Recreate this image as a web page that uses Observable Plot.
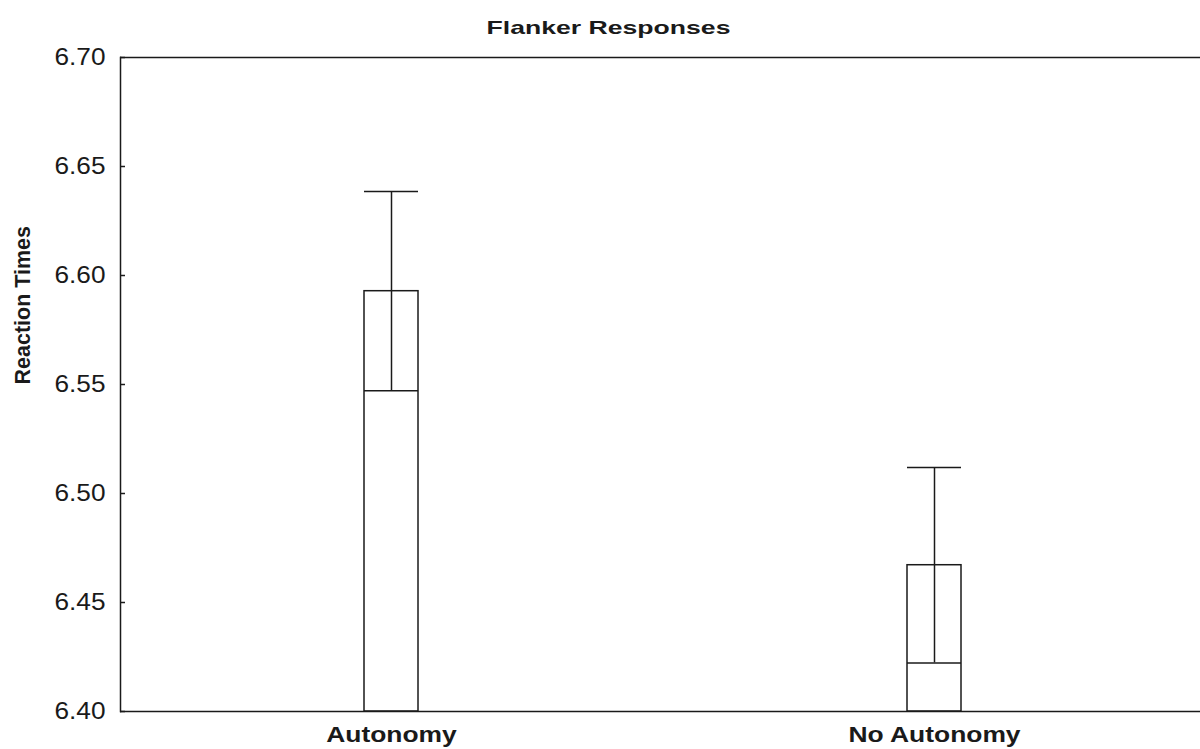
<!DOCTYPE html>
<html>
<head>
<meta charset="utf-8">
<script src="https://cdn.jsdelivr.net/npm/d3@7"></script>
<script src="https://cdn.jsdelivr.net/npm/@observablehq/plot@0.6"></script>
<style>
  html, body { margin: 0; padding: 0; background: white; overflow: hidden; }
</style>
</head>
<body>
<script>
const categories = ["Autonomy", "No Autonomy"];
const means = [6.5928, 6.4671];
const errors = [0.0457, 0.0448];
const yTicks = [6.40, 6.45, 6.50, 6.55, 6.60, 6.65, 6.70];
const titleText = "Flanker Responses";
const yLabel = "Reaction Times";

const data = categories.map((c, i) => ({cat: c, mean: means[i], lo: means[i] - errors[i], hi: means[i] + errors[i]}));
const ink = "#1a1a1a";
const lw = 1.5;

const plot = Plot.plot({
  width: 1200,
  height: 749,
  marginLeft: 120,
  marginRight: 0,
  marginTop: 57,
  marginBottom: 38,
  style: {fontFamily: "Arial, 'Liberation Sans', sans-serif", color: ink, background: "white", overflow: "hidden"},
  x: {domain: categories, range: [120, 1204], paddingInner: 0.9007, paddingOuter: 0.4467, align: 0.5, label: null, axis: null},
  y: {domain: [yTicks[0], yTicks[yTicks.length - 1]], label: null, axis: null},
  marks: [
    Plot.barY(data, {x: "cat", y1: yTicks[0], y2: "mean", fill: "white", stroke: ink, strokeWidth: lw}),
    Plot.ruleX(data, {x: "cat", y1: "lo", y2: "hi", stroke: ink, strokeWidth: lw}),
    Plot.tickY(data, {x: "cat", y: "hi", stroke: ink, strokeWidth: lw}),
    Plot.tickY(data, {x: "cat", y: "lo", stroke: ink, strokeWidth: lw}),
    Plot.ruleY([yTicks[0], yTicks[yTicks.length - 1]], {stroke: ink, strokeWidth: lw}),
    Plot.ruleY(yTicks, {stroke: ink, strokeWidth: lw, insetRight: 1075}),
    Plot.frame({anchor: "left", stroke: ink, strokeWidth: lw}),
    Plot.axisY(yTicks, {tickSize: 0, tickPadding: 15, tickFormat: d => d.toFixed(2), fontSize: 23}),
    Plot.axisX({tickSize: 0, tickPadding: 15, fontSize: 22, fontWeight: "bold"}),
    Plot.text([titleText], {frameAnchor: "top", dx: -52, dy: -37, fontSize: 19, fontWeight: "bold"}),
    Plot.text([yLabel], {frameAnchor: "left", dx: -97.5, rotate: -90, fontSize: 21.5, fontWeight: "bold"})
  ]
});

document.body.append(plot);

// The reference's lettering is horizontally wide; widen the labels to match.
const tickStrings = yTicks.map(d => d.toFixed(2));
plot.querySelectorAll("text").forEach(t => {
  const s = t.textContent;
  let k = 1;
  if (s === titleText) k = 1.4;
  else if (tickStrings.includes(s)) k = 1.14;
  else if (categories.includes(s)) k = 1.2;
  if (k === 1) return;
  const L = t.getComputedTextLength();
  if (L > 0) {
    t.setAttribute("textLength", (L * k).toFixed(1));
    t.setAttribute("lengthAdjust", "spacingAndGlyphs");
  }
});
</script>
</body>
</html>
